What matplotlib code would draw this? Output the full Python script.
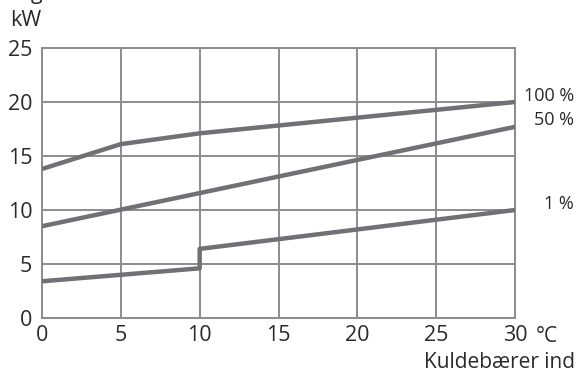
import matplotlib.pyplot as plt

plt.rcParams['font.family'] = ['Open Sans', 'DejaVu Sans']

# brine temperature in (°C) vs output (kW)
x_100 = [0, 5, 10, 30]
y_100 = [13.8, 16.1, 17.1, 20.0]
x_50 = [0, 30]
y_50 = [8.5, 17.7]
x_1 = [0, 10, 10, 30]
y_1 = [3.4, 4.6, 6.4, 10.0]
curve_labels = ["100 %", "50 %", "1 %"]
xticks = [0, 5, 10, 15, 20, 25, 30]
yticks = [0, 5, 10, 15, 20, 25]

line_col = "#707075"
grid_col = "#8c8c8c"
txt_col = "#2a2a2a"

fig = plt.figure(figsize=(5.83, 3.72), dpi=100)
ax = fig.add_axes([42 / 583, 1 - 318 / 372, 473 / 583, 270 / 372])

for xs, ys in [(x_100, y_100), (x_50, y_50), (x_1, y_1)]:
    ax.plot(xs, ys, color=line_col, lw=3.2, solid_capstyle="butt", zorder=3)

ax.set_xlim(0, 30)
ax.set_ylim(0, 25)
ax.set_xticks(xticks)
ax.set_yticks(yticks)
ax.grid(True, color=grid_col, lw=1.4)
for s in ax.spines.values():
    s.set_color(grid_col)
    s.set_linewidth(1.4)
ax.tick_params(length=0, labelsize=15.5, colors=txt_col)
ax.tick_params(axis="x", pad=5)
ax.tick_params(axis="y", pad=7)

for lab, yv in zip(curve_labels, [y_100[-1], y_50[-1], y_1[-1]]):
    ax.text(1.125, yv + 0.6, lab, transform=ax.get_yaxis_transform(),
            ha="right", va="center", fontsize=13, color=txt_col)

fig.text(547 / 583, 1 - 336 / 372, "°C", ha="center", va="center", fontsize=15, color=txt_col)
fig.text(575 / 583, 1 - 362 / 372, "Kuldebærer ind", ha="right", va="center", fontsize=15, color=txt_col)
fig.text(10 / 583, 1 - 20 / 372, "kW", ha="left", va="center", fontsize=15.5, color=txt_col)
# title sits mostly above the top edge, as in the reference
fig.text(10 / 583, 1 + 7 / 372, "Afgiven effekt", ha="left", va="center", fontsize=15.5, color=txt_col)

fig.savefig("out.png", dpi=100)
